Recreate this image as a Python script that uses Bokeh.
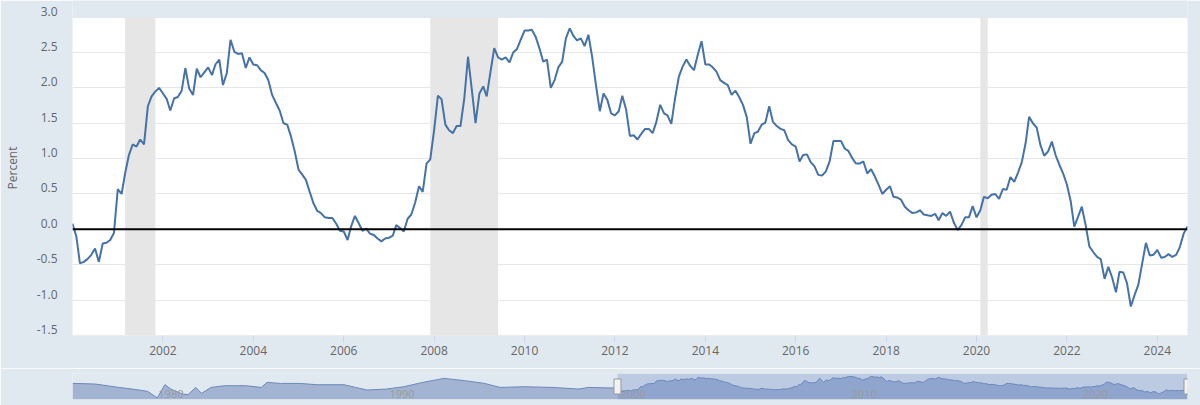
import pandas as pd
from bokeh.plotting import figure
from bokeh.models import (Range1d, FixedTicker, DatetimeTickFormatter, Span, LinearAxis,
                          NumeralTickFormatter)
from bokeh.layouts import column
from bokeh.embed import file_html
from bokeh.resources import INLINE
from bokeh.core.properties import value

# ---------------- data ----------------
series_start = "2000-01-01"
spread = [
    0.08, -0.10, -0.48, -0.46, -0.42, -0.36, -0.27, -0.46, -0.20, -0.19, -0.15, -0.05,   # 2000
    0.57, 0.50, 0.79, 1.05, 1.20, 1.17, 1.27, 1.20, 1.74, 1.88, 1.95, 2.00,             # 2001
    1.92, 1.84, 1.68, 1.85, 1.87, 1.96, 2.28, 1.99, 1.90, 2.27, 2.15, 2.22,             # 2002
    2.29, 2.18, 2.33, 2.40, 2.04, 2.21, 2.68, 2.51, 2.48, 2.49, 2.28, 2.43,             # 2003
    2.33, 2.32, 2.25, 2.21, 2.11, 1.90, 1.79, 1.68, 1.50, 1.48, 1.31, 1.10,             # 2004
    0.84, 0.77, 0.70, 0.53, 0.37, 0.26, 0.23, 0.17, 0.16, 0.16, 0.08, -0.02,            # 2005
    -0.03, -0.15, 0.04, 0.19, 0.09, -0.02, 0.01, -0.06, -0.08, -0.13, -0.17, -0.13,     # 2006
    -0.12, -0.09, 0.06, 0.02, -0.03, 0.15, 0.21, 0.38, 0.61, 0.53, 0.93, 0.99,          # 2007
    1.40, 1.89, 1.84, 1.48, 1.40, 1.36, 1.46, 1.46, 1.85, 2.44, 1.97, 1.50,             # 2008
    1.92, 2.02, 1.88, 2.23, 2.56, 2.43, 2.40, 2.43, 2.36, 2.50, 2.55, 2.68,             # 2009
    2.81, 2.81, 2.82, 2.72, 2.56, 2.37, 2.40, 2.00, 2.11, 2.29, 2.37, 2.70,             # 2010
    2.84, 2.73, 2.67, 2.70, 2.59, 2.75, 2.44, 2.04, 1.67, 1.92, 1.83, 1.64,             # 2011
    1.61, 1.67, 1.89, 1.69, 1.32, 1.33, 1.27, 1.35, 1.42, 1.42, 1.36, 1.52,             # 2012
    1.76, 1.64, 1.61, 1.49, 1.85, 2.16, 2.30, 2.40, 2.31, 2.25, 2.47, 2.66,             # 2013
    2.33, 2.33, 2.29, 2.23, 2.11, 2.07, 2.04, 1.90, 1.96, 1.87, 1.76, 1.59,             # 2014
    1.21, 1.36, 1.38, 1.48, 1.51, 1.74, 1.52, 1.46, 1.42, 1.40, 1.26, 1.20,             # 2015
    1.17, 0.96, 1.05, 1.06, 0.95, 0.89, 0.77, 0.76, 0.82, 0.96, 1.25, 1.25,             # 2016
    1.25, 1.14, 1.11, 1.01, 0.93, 0.93, 0.96, 0.79, 0.85, 0.75, 0.63, 0.50,             # 2017
    0.56, 0.61, 0.46, 0.45, 0.42, 0.32, 0.27, 0.23, 0.24, 0.27, 0.21, 0.20,             # 2018
    0.19, 0.22, 0.13, 0.23, 0.19, 0.25, 0.10, -0.01, 0.06, 0.17, 0.17, 0.33,            # 2019
    0.17, 0.27, 0.46, 0.44, 0.49, 0.50, 0.43, 0.57, 0.56, 0.74, 0.67, 0.80,             # 2020
    0.95, 1.22, 1.59, 1.50, 1.44, 1.19, 1.04, 1.10, 1.24, 1.05, 0.91, 0.79,             # 2021
    0.63, 0.39, 0.04, 0.18, 0.32, 0.06, -0.24, -0.32, -0.39, -0.42, -0.70, -0.53,       # 2022
    -0.68, -0.89, -0.60, -0.61, -0.76, -1.09, -0.93, -0.78, -0.48, -0.19, -0.37, -0.36, # 2023
    -0.29, -0.40, -0.39, -0.35, -0.39, -0.36, -0.25, -0.06, 0.04,                       # 2024
]

# earlier history shown only in the navigator (read coarsely)
history_dates = ["1976-06", "1977-06", "1978-06", "1979-01", "1979-09", "1980-02", "1980-06",
                 "1980-09", "1981-03", "1981-06", "1981-10", "1982-01", "1982-06", "1983-01",
                 "1983-12", "1984-08", "1984-11", "1985-06", "1986-04", "1987-01", "1988-03",
                 "1988-09", "1989-03", "1990-01", "1990-10", "1991-08", "1992-07", "1993-06",
                 "1994-04", "1994-12", "1996-01", "1997-03", "1998-05", "1998-10", "1999-12"]
history_values = [1.28, 1.12, 0.37, 0.00, -0.52, -2.00, 1.00,
                  0.00, -1.12, -1.27, 0.37, -0.97, 0.37, 0.75,
                  0.75, 0.37, 1.50, 1.27, 1.27, 0.97, 0.97,
                  0.37, -0.22, 0.00, 0.52, 1.50, 2.40, 1.87,
                  1.27, 0.37, 0.52, 0.37, 0.00, 0.37, 0.22]

recession_starts = ["2001-03-01", "2007-12-01", "2020-02-01"]
recession_ends = ["2001-11-01", "2009-06-01", "2020-04-01"]

y_ticks = [-1.5, -1.0, -0.5, 0.0, 0.5, 1.0, 1.5, 2.0, 2.5, 3.0]
x_tick_years = [2002, 2004, 2006, 2008, 2010, 2012, 2014, 2016, 2018, 2020, 2022, 2024]
nav_label_years = [1980, 1990, 2000, 2010, 2020]
y_title = "Percent"

# ---------------- styles / layout ----------------
PAGE_BG = "#E1E9F0"
LINE = "#4572A7"
TXT = "#666666"
FONT = "Open Sans"

W, H_MAIN, H_NAV = 1200, 368, 37
LEFT, RIGHT = 72, 13
PLOT_TOP_PX = 16.6          # pixel row of the top gridline inside the frame
FRAME_BOTTOM = 33           # border under frame
LABEL_LIFT = 6              # y tick labels sit this many px above their gridline

dates = pd.date_range(series_start, periods=len(spread), freq="MS")
x0, x1 = dates[0], dates[-1]

frame_h = H_MAIN - FRAME_BOTTOM
px_per_unit = (frame_h - PLOT_TOP_PX) / (y_ticks[-1] - y_ticks[0])
y_top = y_ticks[-1] + PLOT_TOP_PX / px_per_unit
lift = LABEL_LIFT / px_per_unit

p = figure(width=W, height=H_MAIN, x_axis_type="datetime", y_axis_location=None,
           x_range=Range1d(x0, x1), y_range=Range1d(y_ticks[0], y_top),
           output_backend="svg", toolbar_location=None,
           min_border_left=LEFT, min_border_right=RIGHT, min_border_top=0,
           min_border_bottom=FRAME_BOTTOM,
           background_fill_color=PAGE_BG, border_fill_color=PAGE_BG, outline_line_color=None)
p.grid.visible = False

# plot area, gridlines, recession shading
p.hstrip(y0=[y_ticks[0]], y1=[y_ticks[-1]], fill_color="white", line_color=None)
p.hspan(y=y_ticks, line_color="#E6E6E6", line_width=1)
p.quad(left=pd.to_datetime(recession_starts), right=pd.to_datetime(recession_ends),
       bottom=y_ticks[0], top=y_ticks[-1], fill_color="#E6E6E6", line_color=None)
p.add_layout(Span(location=0, dimension="width", line_color="black", line_width=2))
p.line(dates, spread, line_color=LINE, line_width=2)

# x axis
xt = [pd.Timestamp(f"{y}-01-01").value / 1e6 for y in x_tick_years]
p.xaxis.ticker = FixedTicker(ticks=xt)
p.xaxis.formatter = DatetimeTickFormatter(years="%Y", months="%Y", days="%Y", hours="%Y")
p.xaxis.axis_line_color = None
p.xaxis.major_tick_line_color = "#CCD6EB"
p.xaxis.major_tick_out = 7
p.xaxis.major_tick_in = 0
p.xaxis.minor_tick_line_color = None
p.xaxis.major_label_text_color = TXT
p.xaxis.major_label_text_font = FONT
p.xaxis.major_label_text_font_size = "12px"
p.xaxis.major_label_standoff = 3

# y axis: labels lifted above gridlines via a shifted range
p.extra_y_ranges = {"lab": Range1d(y_ticks[0] - lift, y_top - lift)}
yax = LinearAxis(y_range_name="lab", ticker=FixedTicker(ticks=y_ticks),
                 formatter=NumeralTickFormatter(format="0.0"))
yax.axis_line_color = None
yax.major_tick_line_color = None
yax.minor_tick_line_color = None
yax.major_tick_out = 0
yax.major_label_standoff = 15
yax.major_label_text_color = TXT
yax.major_label_text_font = FONT
yax.major_label_text_font_size = "12px"
yax.axis_label = y_title
yax.axis_label_text_font = FONT
yax.axis_label_text_font_style = "normal"
yax.axis_label_text_font_size = "12px"
yax.axis_label_text_color = TXT
yax.axis_label_standoff = 13
p.add_layout(yax, "left")

# ---------------- navigator ----------------
nav_x = list(pd.to_datetime(history_dates)) + list(dates)
nav_y = history_values + spread
ny0, ny1 = -2.35, 3.5
n = figure(width=W, height=H_NAV, x_axis_type="datetime",
           x_range=Range1d(nav_x[0], x1), y_range=Range1d(ny0, ny1),
           output_backend="svg", toolbar_location=None,
           min_border_left=LEFT, min_border_right=RIGHT, min_border_top=5, min_border_bottom=6,
           background_fill_color=PAGE_BG, border_fill_color=PAGE_BG, outline_line_color=None)
n.axis.visible = False
n.grid.visible = False
n.varea(x=nav_x, y1=ny0, y2=nav_y, fill_color="#A3B4D3")
n.line(nav_x, nav_y, line_color="#6A87BA", line_width=1)
n.vstrip(x0=[x0], x1=[x1], fill_color=(102, 133, 194), fill_alpha=0.3, line_color=None)
n.text(x=[pd.Timestamp(f"{y}-01-01") for y in nav_label_years], y=-1.0,
       text=[str(y) for y in nav_label_years], x_offset=3, text_baseline="middle",
       text_color="#9A9A9A", text_font=value(FONT), text_font_size="11px")
mid = (ny0 + ny1) / 2
n.rect(x=[x0, x1], y=mid, width=7, height=15, width_units="screen", height_units="screen",
       fill_color="#F2F2F2", line_color="#999999")

layout = column(p, n, spacing=0)
open("out.html", "w").write(file_html(layout, INLINE))
